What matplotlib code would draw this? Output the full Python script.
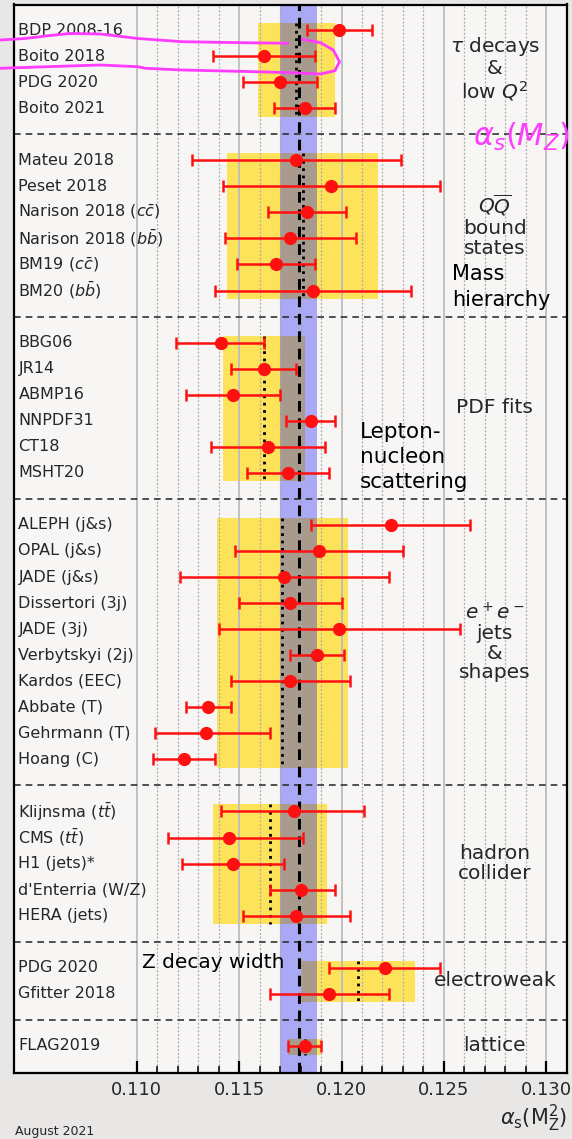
import numpy as np
import matplotlib
matplotlib.use("Agg")
import matplotlib.pyplot as plt
from matplotlib.transforms import blended_transform_factory
from matplotlib.lines import Line2D
from matplotlib.ticker import FixedLocator, FormatStrFormatter

# ---------------------------------------------------------------- data
world_avg = 0.1179
world_err = 0.0009

group_titles = [
    "$\\tau$ decays\n&\nlow $Q^2$",
    "$Q\\overline{Q}$\nbound\nstates",
    "PDF fits",
    "$e^+e^-$\njets\n&\nshapes",
    "hadron\ncollider",
    "electroweak",
    "lattice",
]
group_avg = [0.1178, 0.1181, 0.1162, 0.1171, 0.1165, 0.1208, 0.1182]
group_err = [0.0019, 0.0037, 0.0020, 0.0032, 0.0028, 0.0028, 0.0008]

tau_labels = ["BDP 2008-16", "Boito 2018", "PDG 2020", "Boito 2021"]
tau_values = [0.1199, 0.1162, 0.1170, 0.1182]
tau_lo = [0.0016, 0.0025, 0.0018, 0.0015]
tau_hi = [0.0016, 0.0025, 0.0018, 0.0015]

qq_labels = ["Mateu 2018", "Peset 2018", "Narison 2018 ($c\\bar{c}$)",
             "Narison 2018 ($b\\bar{b}$)", "BM19 ($c\\bar{c}$)", "BM20 ($b\\bar{b}$)"]
qq_values = [0.1178, 0.1195, 0.1183, 0.1175, 0.1168, 0.1186]
qq_lo = [0.0051, 0.0053, 0.0019, 0.0032, 0.0019, 0.0048]
qq_hi = [0.0051, 0.0053, 0.0019, 0.0032, 0.0019, 0.0048]

pdf_labels = ["BBG06", "JR14", "ABMP16", "NNPDF31", "CT18", "MSHT20"]
pdf_values = [0.1141, 0.1162, 0.1147, 0.1185, 0.1164, 0.1174]
pdf_lo = [0.0022, 0.0016, 0.0023, 0.0012, 0.0028, 0.0020]
pdf_hi = [0.0021, 0.0016, 0.0023, 0.0012, 0.0028, 0.0020]

ee_labels = ["ALEPH (j&s)", "OPAL (j&s)", "JADE (j&s)", "Dissertori (3j)", "JADE (3j)",
             "Verbytskyi (2j)", "Kardos (EEC)", "Abbate (T)", "Gehrmann (T)", "Hoang (C)"]
ee_values = [0.1224, 0.1189, 0.1172, 0.1175, 0.1199, 0.1188, 0.1175, 0.1135, 0.1134, 0.1123]
ee_lo = [0.0039, 0.0041, 0.0051, 0.0025, 0.0059, 0.0013, 0.0029, 0.0011, 0.0025, 0.0015]
ee_hi = [0.0039, 0.0041, 0.0051, 0.0025, 0.0059, 0.0013, 0.0029, 0.0011, 0.0031, 0.0015]

had_labels = ["Klijnsma ($t\\bar{t}$)", "CMS ($t\\bar{t}$)", "H1 (jets)*",
              "d'Enterria (W/Z)", "HERA (jets)"]
had_values = [0.1177, 0.1145, 0.1147, 0.1180, 0.1178]
had_lo = [0.0036, 0.0030, 0.0025, 0.0015, 0.0026]
had_hi = [0.0034, 0.0036, 0.0025, 0.0017, 0.0026]

ew_labels = ["PDG 2020", "Gfitter 2018"]
ew_values = [0.1221, 0.1194]
ew_lo = [0.0027, 0.0029]
ew_hi = [0.0027, 0.0029]

lat_labels = ["FLAG2019"]
lat_values = [0.1182]
lat_lo = [0.0008]
lat_hi = [0.0008]

major_ticks = [0.110, 0.115, 0.120, 0.125, 0.130]
minor_ticks = np.round(np.arange(0.110, 0.1305, 0.001), 3)

groups = [
    (tau_labels, tau_values, tau_lo, tau_hi),
    (qq_labels, qq_values, qq_lo, qq_hi),
    (pdf_labels, pdf_values, pdf_lo, pdf_hi),
    (ee_labels, ee_values, ee_lo, ee_hi),
    (had_labels, had_values, had_lo, had_hi),
    (ew_labels, ew_values, ew_lo, ew_hi),
    (lat_labels, lat_values, lat_lo, lat_hi),
]

# ---------------------------------------------------------------- style
YELLOW = "#fde35a"
BROWN = "#a89b8d"
BLUE = "#a9a9f5"
RED = "#ff1010"
MAGENTA = "#ff3cff"
TEXT = "#262626"
W, H = 572, 1139


def fx(px):
    return px / W


def fy(py):
    return 1 - py / H


fig = plt.figure(figsize=(W / 100, H / 100), dpi=100, facecolor="#e9e7e5")
ax = fig.add_axes([fx(14), fy(1073), fx(566.7) - fx(14), fy(4.5) - fy(1073)])
ax.set_facecolor((1, 1, 1, 0.65))
ax.set_xlim(0.104, 0.131)
ax.set_ylim(40.04, -0.98)

lab_tr = blended_transform_factory(ax.transAxes, ax.transData)

# world average band and line
ax.axvspan(world_avg - world_err, world_avg + world_err, color=BLUE, lw=0, zorder=0.9)
ax.axvline(world_avg, color="black", lw=2.2, ls=(0, (3.5, 2.2)), zorder=3)

row = 0
for gi, (labels, vals, lo, hi) in enumerate(groups):
    rows = np.arange(row, row + len(labels))
    top, bot = rows[0] - 0.27, rows[-1] + 0.33
    glo, ghi = group_avg[gi] - group_err[gi], group_avg[gi] + group_err[gi]
    ax.fill_betweenx([top, bot], glo, ghi, color=YELLOW, lw=0, zorder=1)
    olo = max(glo, world_avg - world_err)
    ohi = min(ghi, world_avg + world_err)
    if olo < ohi:
        ax.fill_betweenx([top, bot], olo, ohi, color=BROWN, lw=0, zorder=1.1)
    ax.vlines(group_avg[gi], top, bot, colors="black", linestyles=":", lw=2, zorder=3)

    ax.errorbar(vals, rows, xerr=[lo, hi], fmt="o", color=RED, ms=8.5,
                elinewidth=1.8, capsize=4.5, capthick=1.8, zorder=5)
    for r, lab in zip(rows, labels):
        ax.text(0.008, r, lab, transform=lab_tr, ha="left", va="center",
                fontsize=11.5, color=TEXT, zorder=6)
    ax.text(0.87, (rows[0] + rows[-1]) / 2, group_titles[gi], transform=lab_tr,
            ha="center", va="center", fontsize=14.5, color=TEXT, linespacing=1.05,
            zorder=6)
    if gi < len(groups) - 1:
        ax.axhline(rows[-1] + 1, color="#333333", lw=1.2, ls=(0, (4, 3)), zorder=2.6)
    row = rows[-1] + 2

# grid and ticks
ax.xaxis.set_major_locator(FixedLocator(major_ticks))
ax.xaxis.set_minor_locator(FixedLocator(minor_ticks))
ax.xaxis.set_major_formatter(FormatStrFormatter("%.3f"))
ax.set_yticks([])
ax.set_axisbelow(False)
ax.grid(which="major", axis="x", color="#bdbdbd", lw=1.3)
ax.grid(which="minor", axis="x", color="#aaaaaa", lw=0.9, ls=(0, (1.5, 1.5)))
ax.tick_params(axis="x", which="major", direction="in", length=8.5, width=1.6,
               labelsize=13, pad=6, colors="black", labelcolor=TEXT)
ax.tick_params(axis="x", which="minor", direction="in", length=5, width=1.1)
for sp in ax.spines.values():
    sp.set_linewidth(1.6)
    sp.set_color("black")
    sp.set_zorder(7)

fig.text(fx(567), fy(1118), r"$\alpha_\mathrm{s}(\mathrm{M}_\mathrm{Z}^2)$", ha="right",
         va="center", fontsize=15, color=TEXT)
fig.text(fx(15), fy(1131), "August 2021", ha="left", va="center", fontsize=9, color=TEXT)

# hand-written notes
fig.text(fx(452), fy(287), "Mass\nhierarchy", ha="left", va="center", fontsize=15,
         color="black", linespacing=1.35)
fig.text(fx(360), fy(457), "Lepton-\nnucleon\nscattering", ha="left", va="center",
         fontsize=15.5, color="black", linespacing=1.3)
fig.text(fx(142), fy(962), "Z decay width", ha="left", va="center", fontsize=14.5,
         color="black")
fig.text(fx(570), fy(137), r"$\alpha_s(M_Z)$", ha="right", va="center", fontsize=22,
         color=MAGENTA)

upper = [(0, 40), (25, 38.5), (50, 35.5), (70, 33.5), (100, 34), (138, 38.5),
         (182, 41.7), (230, 42.5), (288, 43.3)]
loop = [(302, 39.3), (320.5, 42.7), (333.3, 50), (339.5, 61.7), (335, 70.7),
        (320.5, 74), (291.3, 72.7), (254.8, 71.7), (181.8, 70), (145.3, 68.3),
        (138, 66.7), (100, 65), (47, 66.7), (0, 68.3)]
for path in (upper, loop):
    xs = [fx(p[0]) for p in path]
    ys = [fy(p[1]) for p in path]
    fig.add_artist(Line2D(xs, ys, color=MAGENTA, lw=2, solid_capstyle="round",
                          solid_joinstyle="round", zorder=10))

fig.savefig("out.png", dpi=100, facecolor=fig.get_facecolor())
